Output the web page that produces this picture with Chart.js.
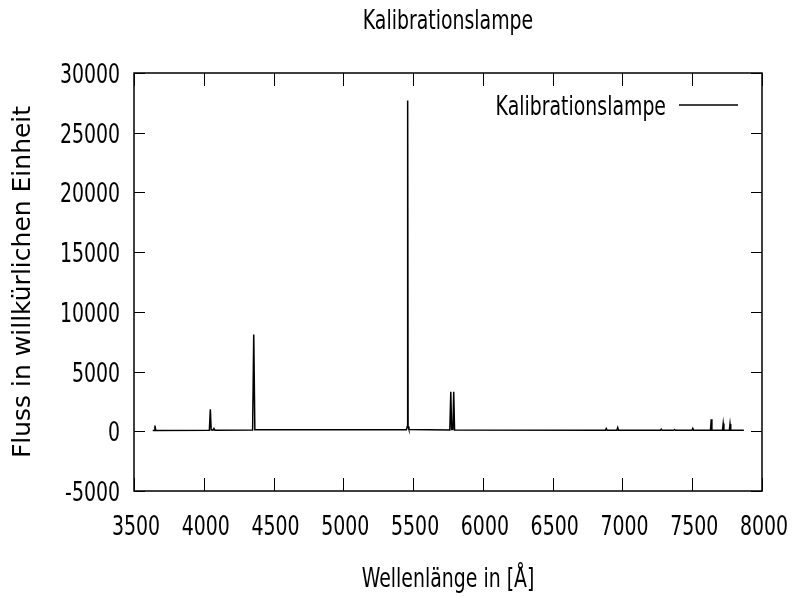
<!DOCTYPE html>
<html>
<head>
<meta charset="utf-8">
<title>Kalibrationslampe</title>
<script src="https://cdn.jsdelivr.net/npm/chart.js@4/dist/chart.umd.min.js"></script>
<style>
  html, body { margin: 0; padding: 0; background: #fff; }
  #wrap { width: 794px; height: 597px; }
</style>
</head>
<body>
<div id="wrap"><canvas id="spektrum"></canvas></div>
<script>
// Spektrum der Kalibrationslampe: Wellenlänge [Å] und Fluss
const wellenlaenge = [
  3634, 3644, 3650, 3656,
  4040, 4047, 4053, 4066, 4073, 4080,
  4350, 4358, 4366,
  5452, 5458, 5461, 5464, 5470,
  5763, 5770, 5776, 5785, 5791, 5797,
  6878, 6884, 6890, 6960, 6966, 6972,
  7272, 7278, 7284, 7368, 7374, 7380,
  7498, 7504, 7510, 7631, 7636, 7641,
  7717, 7722, 7727, 7766, 7771, 7776,
  7870
];
const fluss = [
  60, 70, 480, 70,
  90, 1850, 120, 90, 230, 90,
  100, 8100, 120,
  130, 400, 27700, 400, 150,
  100, 3300, 150, 150, 3300, 100,
  90, 230, 90, 90, 320, 90,
  90, 170, 90, 90, 150, 90,
  90, 250, 90, 90, 1000, 90,
  90, 650, 90, 90, 620, 90,
  80
];
const xTicks = [3500, 4000, 4500, 5000, 5500, 6000, 6500, 7000, 7500, 8000];
const yTicks = [-5000, 0, 5000, 10000, 15000, 20000, 25000, 30000];

const titel = 'Kalibrationslampe';
const xTitel = 'Wellenlänge in [Å]';
const yTitel = 'Fluss in willkürlichen Einheit';

// schmale Beschriftung: DejaVu Sans horizontal gestaucht
const SCHRIFT = '27px "DejaVu Sans", Verdana, sans-serif';
const STAUCHUNG = 0.70;

function schmalerText(ctx, text, x, y, align) {
  ctx.save();
  ctx.translate(x, y);
  ctx.scale(STAUCHUNG, 1);
  ctx.font = SCHRIFT;
  ctx.fillStyle = '#000';
  ctx.textAlign = align;
  ctx.textBaseline = 'alphabetic';
  ctx.fillText(text, 0, 0);
  ctx.restore();
}

// Rahmen mit nach innen zeigenden Ticks auf allen vier Seiten,
// Achsenbeschriftung, Titel und Legende
const rahmen = {
  id: 'rahmen',
  afterDatasetsDraw(chart) {
    const { ctx, chartArea: a, scales: { x, y } } = chart;
    ctx.save();
    ctx.strokeStyle = '#000';
    ctx.lineWidth = 1;
    ctx.beginPath();
    xTicks.forEach(v => {
      const px = Math.round(x.getPixelForValue(v)) + 0.5;
      ctx.moveTo(px, a.bottom); ctx.lineTo(px, a.bottom - 13);
      ctx.moveTo(px, a.top); ctx.lineTo(px, a.top + 13);
    });
    yTicks.forEach(v => {
      const py = Math.round(y.getPixelForValue(v)) + 0.5;
      ctx.moveTo(a.left, py); ctx.lineTo(a.left + 11, py);
      ctx.moveTo(a.right, py); ctx.lineTo(a.right - 11, py);
    });
    ctx.stroke();

    ctx.lineWidth = 1.5;
    ctx.strokeRect(a.left, a.top, a.right - a.left, a.bottom - a.top);

    // Tick-Beschriftung
    xTicks.forEach(v => schmalerText(ctx, String(v), x.getPixelForValue(v) + 2, a.bottom + 44, 'center'));
    yTicks.forEach(v => schmalerText(ctx, String(v), a.left - 14, y.getPixelForValue(v) + 10, 'right'));

    // Titel und x-Achsentitel, zentriert über dem Plotbereich
    const mitte = (a.left + a.right) / 2;
    schmalerText(ctx, titel, mitte, 29, 'center');
    schmalerText(ctx, xTitel, mitte, 587, 'center');

    // Legende oben rechts: Text, danach Linienmuster
    const ds = chart.data.datasets[0];
    const ly = a.top + 32;
    schmalerText(ctx, ds.label, a.right - 96, ly + 10, 'right');
    ctx.lineWidth = 1.5;
    ctx.beginPath();
    ctx.moveTo(a.right - 83, ly);
    ctx.lineTo(a.right - 24, ly);
    ctx.stroke();
    ctx.restore();
  }
};

new Chart(document.getElementById('spektrum'), {
  type: 'line',
  data: {
    datasets: [{
      label: titel,
      data: wellenlaenge.map((w, i) => ({ x: w, y: fluss[i] })),
      borderColor: '#000',
      borderWidth: 1.5,
      pointRadius: 0,
      tension: 0,
      fill: false
    }]
  },
  options: {
    responsive: true,
    maintainAspectRatio: false,
    animation: false,
    layout: { padding: { left: 0, right: 32, top: 73, bottom: 0 } },
    plugins: {
      legend: { display: false },
      tooltip: { enabled: false },
      title: { display: false }
    },
    scales: {
      x: {
        type: 'linear',
        min: 3500,
        max: 8000,
        afterBuildTicks: s => { s.ticks = xTicks.map(v => ({ value: v })); },
        afterFit: s => { s.height = 106; s.paddingLeft = 0; s.paddingRight = 0; },
        grid: { display: false, drawTicks: false },
        border: { display: false },
        ticks: { display: false }
      },
      y: {
        min: -5000,
        max: 30000,
        afterBuildTicks: s => { s.ticks = yTicks.map(v => ({ value: v })); },
        afterFit: s => { s.width = 134; s.paddingTop = 0; s.paddingBottom = 0; },
        grid: { display: false, drawTicks: false },
        border: { display: false },
        ticks: { display: false },
        title: {
          display: true,
          text: yTitel,
          color: '#000',
          font: { family: '"DejaVu Sans", Verdana, sans-serif', size: 25 },
          padding: { top: 8, bottom: 0 }
        }
      }
    }
  },
  plugins: [rahmen]
});
</script>
</body>
</html>
